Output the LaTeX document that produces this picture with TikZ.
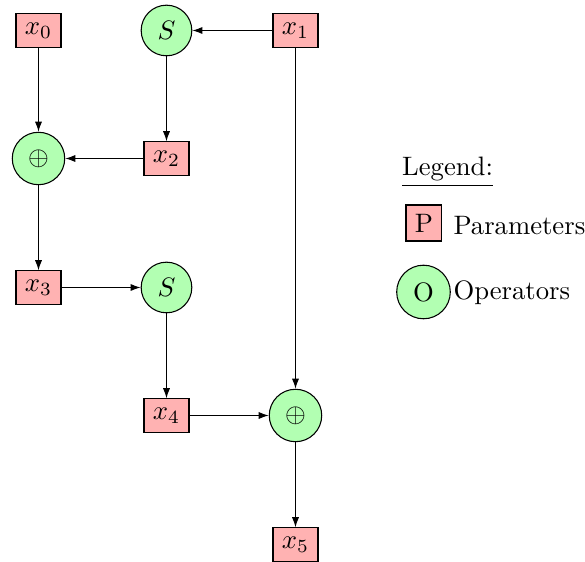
\documentclass[tikz,border=0pt]{standalone}
\usetikzlibrary{arrows.meta}
\begin{document}
\begin{tikzpicture}[x=0.375pt,y=-0.375pt,
  param/.style={draw,fill=red!30,rectangle},
  oper/.style={draw,fill=green!30,circle},
  flow/.style={-{Latex[length=3.8pt,width=2.7pt]}}]
\useasboundingbox (0,0) rectangle (585,562);
\node[param] (x0) at (38.5,30.5) {$x_0$};
\node[oper] (s1) at (166.5,30.5) {$S$};
\node[param] (x1) at (295.5,30.5) {$x_1$};
\node[oper] (p1) at (38.5,158.5) {$\oplus$};
\node[param] (x2) at (166.5,158.5) {$x_2$};
\node[param] (x3) at (38.5,287.5) {$x_3$};
\node[oper] (s2) at (166.5,287.5) {$S$};
\node[param] (x4) at (166.5,415.5) {$x_4$};
\node[oper] (p2) at (295.5,415.5) {$\oplus$};
\node[param] (x5) at (295.5,544.5) {$x_5$};
\draw[flow] (x1) -- (s1);
\draw[flow] (s1) -- (x2);
\draw[flow] (x0) -- (p1);
\draw[flow] (x2) -- (p1);
\draw[flow] (p1) -- (x3);
\draw[flow] (x3) -- (s2);
\draw[flow] (s2) -- (x4);
\draw[flow] (x4) -- (p2);
\draw[flow] (x1) -- (p2);
\draw[flow] (p2) -- (x5);
% legend
\node[anchor=base west,inner sep=0pt] (lg) at (401.7,176) {\underline{Legend:}};
\node[param] (lp) at (424,223) {P};
\node[anchor=base west,inner sep=0pt] (lpt) at (453,234.5) {Parameters};
\node[oper] (lo) at (423.5,292) {O};
\node[anchor=base west,inner sep=0pt] (lot) at (453,300) {Operators};
\end{tikzpicture}
\end{document}
